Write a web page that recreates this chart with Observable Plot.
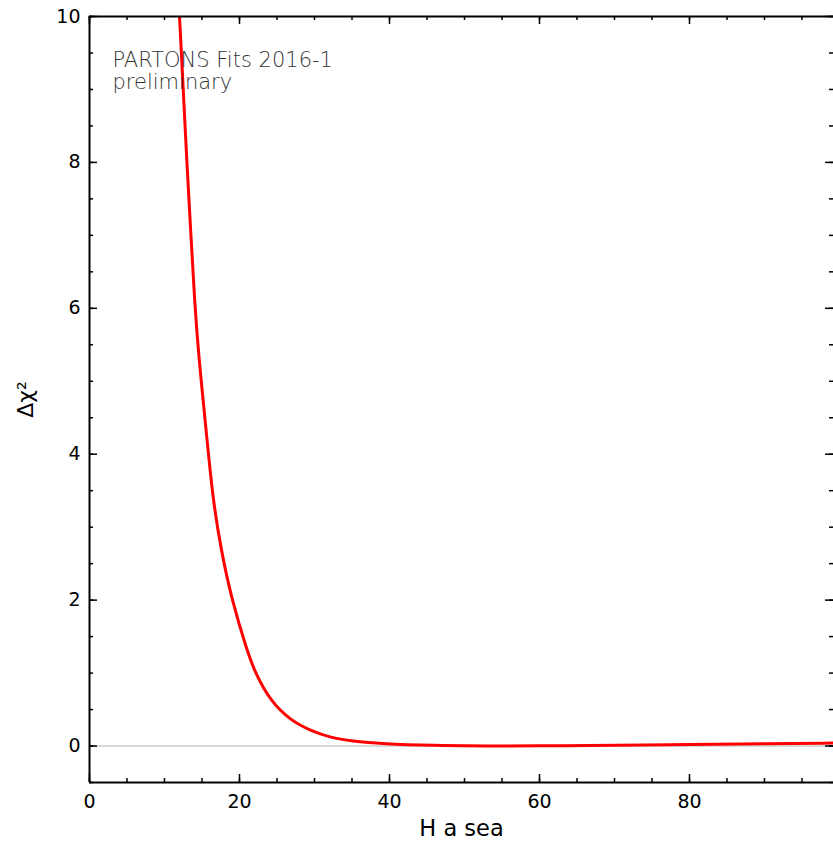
<!DOCTYPE html>
<html>
<head>
<meta charset="utf-8">
<script src="https://cdn.jsdelivr.net/npm/d3@7"></script>
<script src="https://cdn.jsdelivr.net/npm/@observablehq/plot@0.6"></script>
<style>
  html, body { margin: 0; padding: 0; background: #fff; overflow: hidden; }
  #chart svg { display: block; }
</style>
</head>
<body>
<div id="chart"></div>
<script>
// Data
const hValues   = [12.0, 12.45, 12.9, 13.5, 14.0, 14.6, 15.16, 15.9, 16.58, 17.56, 19.0, 21.0, 22.1, 24.1, 26.8, 29.5, 32.0, 35.0, 39.0, 46.0, 52.5, 61.5, 70.0, 80.4, 90.0, 99.3];
const dChi2     = [10.0, 9.1, 8.16, 7.05, 6.1, 5.3, 4.74, 3.95, 3.3, 2.68, 1.99, 1.31, 1.0, 0.62, 0.35, 0.21, 0.12, 0.065, 0.03, 0.008, 0.0, 0.002, 0.01, 0.02, 0.03, 0.04];
const xMajorTicks = [0, 20, 40, 60, 80];
const xMinorTicks = d3.range(0, 100, 5);
const yMajorTicks = [0, 2, 4, 6, 8, 10];
const yMinorTicks = d3.range(-0.5, 10.01, 0.5);
const xDomain = [0, 99.2];
const yDomain = [-0.5, 10];
const xLabel = "H a sea";
const yLabel = "Δχ²";
const noteLines = ["PARTONS Fits 2016-1", "preliminary"];

const curve = hValues.map((h, i) => ({h, v: dChi2[i]}));

const W = 833, H = 843;
const mL = 89, mR = 0, mT = 16, mB = 61;
const pw = W - mL - mR, ph = H - mT - mB;
const font = "DejaVu Sans, sans-serif";

const chart = Plot.plot({
  width: W,
  height: H,
  marginLeft: mL,
  marginRight: mR,
  marginTop: mT,
  marginBottom: mB,
  style: {fontFamily: font, background: "#fff", overflow: "visible"},
  x: {domain: xDomain, axis: null},
  y: {domain: yDomain, axis: null},
  marks: [
    // zero reference line
    Plot.ruleY([0], {stroke: "#cccccc", strokeWidth: 1.5}),
    // data curve
    Plot.line(curve, {x: "h", y: "v", stroke: "#ff0000", strokeWidth: 3, curve: "basis", clip: true}),
    // frame: left, bottom, top
    Plot.ruleX([xDomain[0]], {stroke: "#000", strokeWidth: 2}),
    Plot.ruleY(yDomain, {stroke: "#000", strokeWidth: 2}),
    // inward ticks: bottom
    Plot.tickX(xMajorTicks, {x: d => d, insetTop: ph - 8, stroke: "#000", strokeWidth: 1.5}),
    Plot.tickX(xMinorTicks, {x: d => d, insetTop: ph - 4, stroke: "#000", strokeWidth: 1.5}),
    // inward ticks: top
    Plot.tickX(xMajorTicks, {x: d => d, insetBottom: ph - 8, stroke: "#000", strokeWidth: 1.5}),
    Plot.tickX(xMinorTicks, {x: d => d, insetBottom: ph - 4, stroke: "#000", strokeWidth: 1.5}),
    // inward ticks: left
    Plot.tickY(yMajorTicks, {y: d => d, insetRight: pw - 8, stroke: "#000", strokeWidth: 1.5}),
    Plot.tickY(yMinorTicks, {y: d => d, insetRight: pw - 4, stroke: "#000", strokeWidth: 1.5}),
    // inward ticks: right
    Plot.tickY(yMajorTicks, {y: d => d, insetLeft: pw - 8, stroke: "#000", strokeWidth: 1.5}),
    Plot.tickY(yMinorTicks, {y: d => d, insetLeft: pw - 4, stroke: "#000", strokeWidth: 1.5}),
    // tick labels
    Plot.text(xMajorTicks, {x: d => d, text: d => String(d), frameAnchor: "bottom", dy: 12, lineAnchor: "top", fontSize: 19, fill: "#000"}),
    Plot.text(yMajorTicks, {y: d => d, text: d => String(d), frameAnchor: "left", dx: -9, textAnchor: "end", fontSize: 19, fill: "#000"}),
    // axis titles
    Plot.text([xLabel], {frameAnchor: "bottom", dy: 53, lineAnchor: "bottom", fontSize: 22.5, fill: "#000"}),
    Plot.text([yLabel], {frameAnchor: "left", dx: -57, rotate: -90, textAnchor: "middle", lineAnchor: "bottom", fontSize: 22, fill: "#000"}),
    // annotation
    Plot.text([noteLines.join("\n")], {frameAnchor: "top-left", dx: 23, dy: 35, lineAnchor: "top", textAnchor: "start", fontSize: 21, lineHeight: 1.05, fill: "#333333", fontWeight: 300})
  ]
});
document.getElementById("chart").appendChild(chart);
</script>
</body>
</html>
